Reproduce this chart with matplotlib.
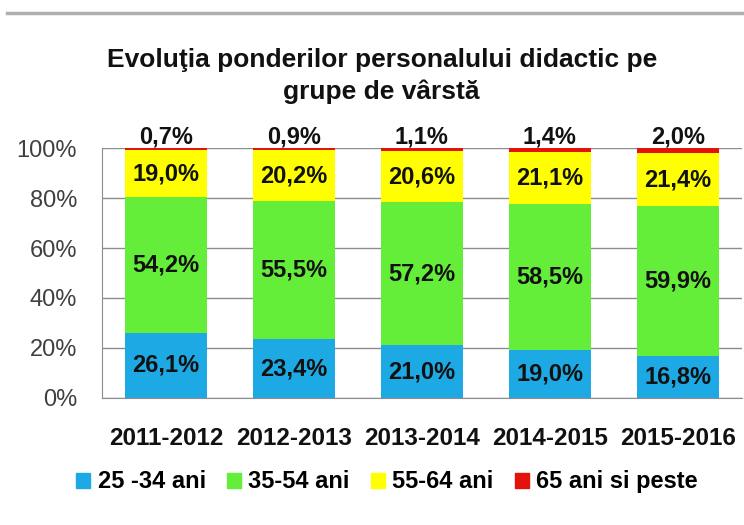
import numpy as np
import matplotlib
matplotlib.use("Agg")
import matplotlib.pyplot as plt
from matplotlib.lines import Line2D
from matplotlib.patches import Patch

plt.rcParams['font.family'] = ['Liberation Sans', 'DejaVu Sans']

years = ["2011-2012", "2012-2013", "2013-2014", "2014-2015", "2015-2016"]
grp_25_34 = [26.1, 23.4, 21.0, 19.0, 16.8]
grp_35_54 = [54.2, 55.5, 57.2, 58.5, 59.9]
grp_55_64 = [19.0, 20.2, 20.6, 21.1, 21.4]
grp_65 = [0.7, 0.9, 1.1, 1.4, 2.0]
legend_labels = ["25 -34 ani", "35-54 ani", "55-64 ani", "65 ani si peste"]
colors = ["#1DAAE4", "#64EE3A", "#FFFF00", "#E3120B"]

series = np.array([grp_25_34, grp_35_54, grp_55_64, grp_65], dtype=float)
# 100% stacked, like excel does it
shares = series / series.sum(axis=0) * 100

fig = plt.figure(figsize=(7.44, 5.25), dpi=100)
ax = fig.add_axes([0.137, 0.242, 0.860, 0.476])

x = np.arange(len(years))
bottom = np.zeros(len(years))
for i in range(4):
    ax.bar(x, shares[i], 0.64, bottom=bottom, color=colors[i], zorder=2)
    if i < 3:
        for xi, b, h, v in zip(x, bottom, shares[i], series[i]):
            ax.text(xi, b + h / 2, f"{v:.1f}%".replace(".", ","), ha="center", va="center",
                    fontsize=17, fontweight="bold", color="#111111", zorder=3)
    bottom += shares[i]

for xi, v in zip(x, grp_65):
    ax.annotate(f"{v:.1f}%".replace(".", ","), (xi, 100), xytext=(0, 0), textcoords="offset points",
                ha="center", va="bottom", fontsize=17, fontweight="bold", color="#111111")

ax.set_xlim(-0.5, 4.5)
ax.set_ylim(0, 100)
ax.set_yticks([0, 20, 40, 60, 80, 100])
ax.set_yticklabels([f"{t}%" for t in range(0, 101, 20)])
ax.set_xticks(x)
ax.set_xticklabels(years, fontweight="bold")
ax.tick_params(axis="both", length=0, labelsize=17, labelcolor="#404040")
ax.tick_params(axis="x", pad=21, labelcolor="#111111", labelsize=17.5)
ax.tick_params(axis="y", pad=18)
ax.grid(axis="y", color="#8c8c8c", linewidth=1, zorder=1)
for s in ["top", "right"]:
    ax.spines[s].set_visible(False)
for s in ["left", "bottom"]:
    ax.spines[s].set_color("#8c8c8c")

fig.text(0.513, 0.855, "Evoluţia ponderilor personalului didactic pe\ngrupe de vârstă",
         ha="center", va="center", fontsize=19, fontweight="bold", color="#111111", linespacing=1.4)

fig.add_artist(Line2D([0.01, 1.0], [0.975, 0.975], color="#b0b0b0", linewidth=2.5))

handles = [Patch(color=c) for c in colors]
fig.legend(handles, legend_labels, loc="center", bbox_to_anchor=(0.52, 0.082), ncol=4, frameon=False,
           prop={"size": 17, "weight": "bold"}, handlelength=0.6, handleheight=0.6,
           handletextpad=0.3, columnspacing=0.9)

fig.savefig("out.png", dpi=100)
